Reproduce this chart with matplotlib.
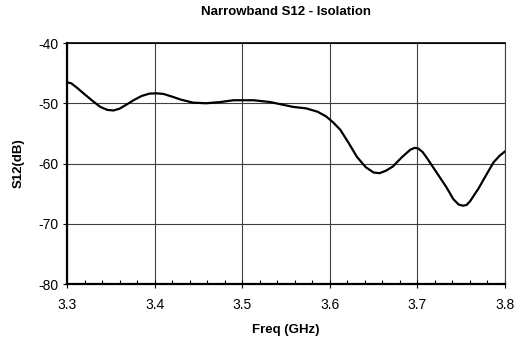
import matplotlib
matplotlib.use("Agg")
import matplotlib.pyplot as plt
from matplotlib.ticker import MultipleLocator

plt.rcParams['font.family'] = ['Liberation Sans', 'DejaVu Sans']

# S12 trace
freq = [3.300, 3.305, 3.312, 3.320, 3.330, 3.338, 3.346, 3.353, 3.360, 3.367,
        3.376, 3.385, 3.394, 3.402, 3.410, 3.420, 3.430, 3.444, 3.459, 3.475,
        3.490, 3.513, 3.532, 3.558, 3.573, 3.586, 3.596, 3.604, 3.612, 3.622,
        3.631, 3.641, 3.650, 3.657, 3.664, 3.672, 3.682, 3.692, 3.697, 3.701,
        3.706, 3.711, 3.722, 3.733, 3.741, 3.747, 3.752, 3.756, 3.760, 3.770,
        3.779, 3.787, 3.794, 3.800]
s12 = [-46.5, -46.7, -47.5, -48.5, -49.7, -50.6, -51.1, -51.2, -50.9, -50.3,
       -49.5, -48.8, -48.4, -48.35, -48.45, -48.9, -49.4, -49.9, -50.0, -49.8,
       -49.5, -49.5, -49.8, -50.6, -50.85, -51.4, -52.2, -53.2, -54.4, -56.7,
       -58.9, -60.6, -61.5, -61.6, -61.2, -60.5, -59.0, -57.7, -57.4, -57.5,
       -58.1, -59.1, -61.5, -63.9, -65.9, -66.8, -67.0, -66.9, -66.3, -64.1,
       -61.8, -59.8, -58.7, -58.0]

fig = plt.figure(figsize=(5.26, 3.43), dpi=100)
ax = fig.add_axes([0.1274, 0.172, 0.8326, 0.7026])

ax.plot(freq, s12, color="black", linewidth=1.6, solid_joinstyle="round")

ax.set_xlim(3.3, 3.8)
ax.set_ylim(-80, -40)
ax.xaxis.set_major_locator(MultipleLocator(0.1))
ax.xaxis.set_minor_locator(MultipleLocator(0.02))
ax.yaxis.set_major_locator(MultipleLocator(10))
ax.grid(True, which="major", color="#404040", linewidth=0.8)

ax.tick_params(axis="x", which="major", direction="inout", length=6, width=0.8, labelsize=10, pad=7)
ax.tick_params(axis="x", which="minor", direction="in", length=3, width=0.8)
ax.tick_params(axis="y", which="major", direction="out", length=3, width=0.8, labelsize=10, pad=3)

ax.set_xticklabels([f"{v:.1f}" for v in ax.get_xticks()])
ax.set_yticklabels([f"{int(v)}" for v in ax.get_yticks()])

for side in ["left", "bottom"]:
    ax.spines[side].set_linewidth(1.6)
ax.spines["top"].set_linewidth(1.2)
ax.spines["right"].set_linewidth(0.8)
ax.spines["right"].set_color("#404040")

ax.set_title("Narrowband S12 - Isolation", fontsize=9.5, fontweight="bold", pad=20)
ax.set_xlabel("Freq (GHz)", fontsize=9.5, fontweight="bold", labelpad=9)
ax.set_ylabel("S12(dB)", fontsize=9.5, fontweight="bold", labelpad=10)

fig.savefig("out.png", dpi=100)
